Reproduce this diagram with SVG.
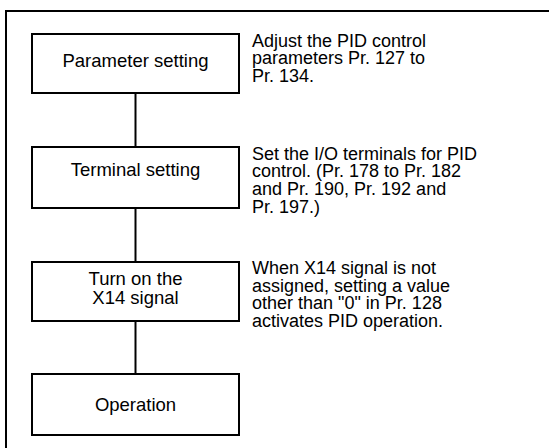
<svg xmlns="http://www.w3.org/2000/svg" width="549" height="448" viewBox="0 0 549 448">
<style>
.box{fill:#fff;stroke:#000;stroke-width:2}
.frame{fill:#fff;stroke:#000;stroke-width:2}
.conn{stroke:#000;stroke-width:2;fill:none}
text{font-family:"Liberation Sans",Arial,sans-serif;font-size:18.5px;fill:#000}
.c{text-anchor:middle}
.n{font-size:18px}
</style>
<rect class="frame" x="6" y="11" width="560" height="460"/>
<g id="connectors">
<line class="conn" x1="135.5" y1="93" x2="135.5" y2="147"/>
<line class="conn" x1="135.5" y1="208" x2="135.5" y2="262"/>
<line class="conn" x1="135.5" y1="321" x2="135.5" y2="374"/>
</g>
<g id="node-parameter">
<rect class="box" x="32" y="34" width="207" height="59"/>
<text class="c" x="135.5" y="67">Parameter setting</text>
</g>
<g id="node-terminal">
<rect class="box" x="32" y="147" width="207" height="61"/>
<text class="c" x="135.5" y="176">Terminal setting</text>
</g>
<g id="node-x14">
<rect class="box" x="32" y="262" width="207" height="59"/>
<text class="c" x="135.5"><tspan x="135.5" y="285">Turn on the</tspan><tspan x="135.5" y="304">X14 signal</tspan></text>
</g>
<g id="node-operation">
<rect class="box" x="32" y="374" width="207" height="61"/>
<text class="c" x="135.5" y="411">Operation</text>
</g>
<g id="notes">
<text class="n"><tspan x="252" y="46.5">Adjust the PID control</tspan><tspan x="252" y="64.2">parameters Pr. 127 to</tspan><tspan x="252" y="81.9">Pr. 134.</tspan></text>
<text class="n"><tspan x="252" y="159.5">Set the I/O terminals for PID</tspan><tspan x="252" y="177.2">control. (Pr. 178 to Pr. 182</tspan><tspan x="252" y="194.9">and Pr. 190, Pr. 192 and</tspan><tspan x="252" y="212.6">Pr. 197.)</tspan></text>
<text class="n"><tspan x="252" y="274">When X14 signal is not</tspan><tspan x="252" y="291.7">assigned, setting a value</tspan><tspan x="252" y="309.4">other than "0" in Pr. 128</tspan><tspan x="252" y="327.1">activates PID operation.</tspan></text>
</g>
</svg>
